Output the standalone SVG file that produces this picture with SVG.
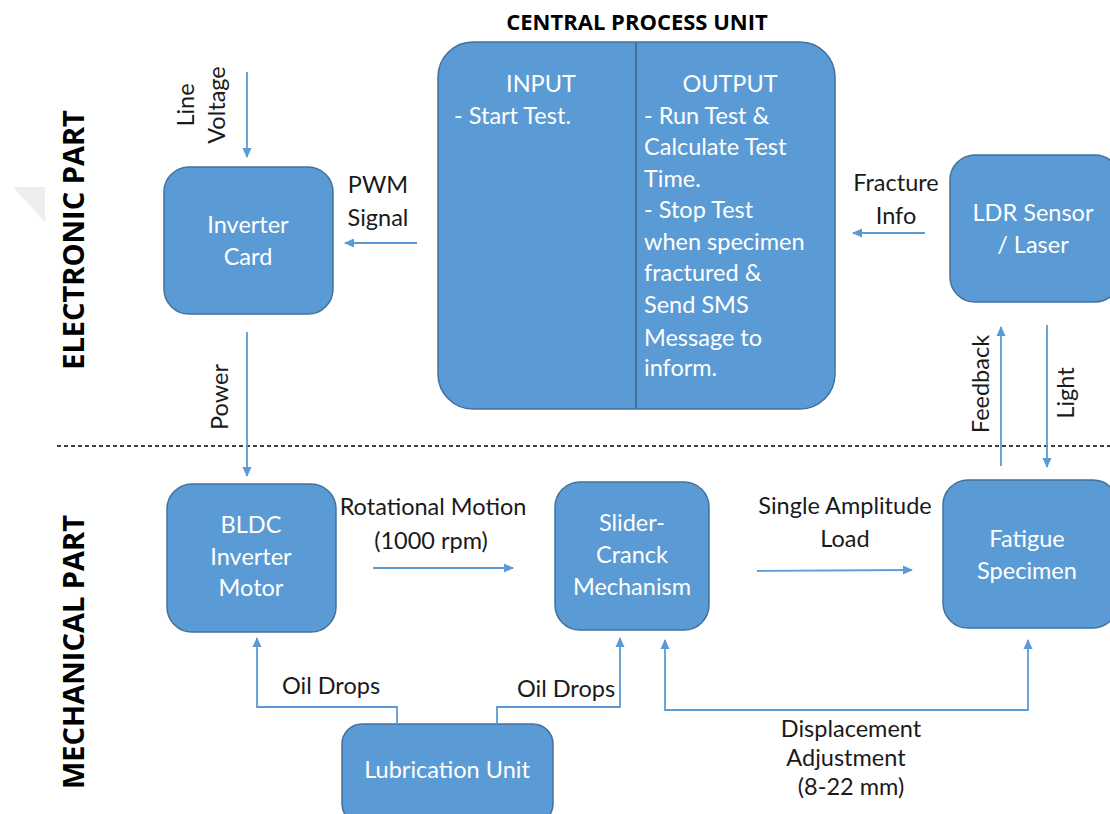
<svg xmlns="http://www.w3.org/2000/svg" width="1110" height="814" viewBox="0 0 1110 814">
<defs>
<marker id="ah" markerWidth="10" markerHeight="10" refX="9" refY="5" orient="auto" markerUnits="userSpaceOnUse">
<path d="M0,0.5 L10,5 L0,9.5 z" fill="#5B9BD5"/>
</marker>
<style>
.box{fill:#5B9BD5;stroke:#41719C;stroke-width:1.5}
.wt{font-family:Lato,"Liberation Sans",sans-serif;font-size:23.5px;fill:#ffffff;text-anchor:middle}
.wl{font-family:Lato,"Liberation Sans",sans-serif;font-size:23.5px;fill:#ffffff}
.bt{font-family:Lato,"Liberation Sans",sans-serif;font-size:23.5px;fill:#1a1a1a;text-anchor:middle}
.hd{font-family:"Open Sans","Liberation Sans",sans-serif;font-weight:bold;fill:#000000;text-anchor:middle}
.cn{fill:none;stroke:#5B9BD5;stroke-width:1.8}
</style>
</defs>
<rect width="1110" height="814" fill="#ffffff"/>
<polygon points="13,187 45,187 45,222" fill="#eeeeee"/>
<line x1="57" y1="446" x2="1110" y2="446" stroke="#000" stroke-width="1.3" stroke-dasharray="4,3"/>
<text class="hd" x="637" y="30" font-size="22">CENTRAL PROCESS UNIT</text>
<text class="hd" font-size="29" transform="translate(84,240) rotate(-90)" x="0" y="0">ELECTRONIC PART</text>
<text class="hd" font-size="29" transform="translate(84,652) rotate(-90)" x="0" y="0">MECHANICAL PART</text>

<g id="cpu">
<rect class="box" x="438" y="42" width="397" height="367" rx="35"/>
<line x1="636" y1="43" x2="636" y2="408" stroke="#41719C" stroke-width="2"/>
<text class="wt" x="541" y="92">INPUT</text>
<text class="wl" x="454" y="124">- Start Test.</text>
<text class="wt" x="730" y="92">OUTPUT</text>
<text class="wl" x="644" y="124">- Run Test &amp;</text>
<text class="wl" x="644" y="155">Calculate Test</text>
<text class="wl" x="644" y="187">Time.</text>
<text class="wl" x="644" y="218">- Stop Test</text>
<text class="wl" x="644" y="250">when specimen</text>
<text class="wl" x="644" y="281">fractured &amp;</text>
<text class="wl" x="644" y="313">Send SMS</text>
<text class="wl" x="644" y="346">Message to</text>
<text class="wl" x="644" y="376">inform.</text>
</g>

<g id="inverter-card">
<rect class="box" x="164" y="167" width="169" height="147" rx="25"/>
<text class="wt" x="248" y="233">Inverter</text>
<text class="wt" x="248" y="265">Card</text>
</g>

<g id="ldr">
<rect class="box" x="950" y="155" width="170" height="147" rx="25"/>
<text class="wt" x="1033" y="221">LDR Sensor</text>
<text class="wt" x="1033" y="253">/ Laser</text>
</g>

<g id="bldc">
<rect class="box" x="167" y="484" width="169" height="148" rx="25"/>
<text class="wt" x="251" y="533">BLDC</text>
<text class="wt" x="251" y="565">Inverter</text>
<text class="wt" x="251" y="596">Motor</text>
</g>

<g id="slider">
<rect class="box" x="555" y="482" width="154" height="148" rx="25"/>
<text class="wt" x="632" y="531">Slider-</text>
<text class="wt" x="632" y="563">Cranck</text>
<text class="wt" x="632" y="595">Mechanism</text>
</g>

<g id="fatigue">
<rect class="box" x="943" y="480" width="175" height="148" rx="25"/>
<text class="wt" x="1027" y="547">Fatigue</text>
<text class="wt" x="1027" y="579">Specimen</text>
</g>

<g id="lubrication">
<rect class="box" x="342" y="724" width="211" height="100" rx="20"/>
<text class="wt" x="447" y="778">Lubrication Unit</text>
</g>

<g id="connectors">
<line class="cn" x1="247" y1="72" x2="247" y2="157" marker-end="url(#ah)"/>
<line class="cn" x1="247" y1="332" x2="247" y2="476" marker-end="url(#ah)"/>
<line class="cn" x1="417" y1="243" x2="345" y2="243" marker-end="url(#ah)"/>
<line class="cn" x1="925" y1="233" x2="853" y2="233" marker-end="url(#ah)"/>
<line class="cn" x1="1001" y1="466" x2="1001" y2="327" marker-end="url(#ah)"/>
<line class="cn" x1="1047" y1="325" x2="1047" y2="467" marker-end="url(#ah)"/>
<line class="cn" x1="373" y1="568" x2="513" y2="568" marker-end="url(#ah)"/>
<line class="cn" x1="757" y1="571" x2="912" y2="570" marker-end="url(#ah)"/>
<polyline class="cn" points="397,724 397,707 257,707 257,638" marker-end="url(#ah)"/>
<polyline class="cn" points="497,724 497,707 620,707 620,638" marker-end="url(#ah)"/>
<polyline class="cn" points="1028,710 665,710 665,640" marker-end="url(#ah)"/>
<line class="cn" x1="1028" y1="711" x2="1028" y2="640" marker-end="url(#ah)"/>
</g>

<g id="labels">
<text class="bt" transform="translate(194,105) rotate(-90)">Line</text>
<text class="bt" transform="translate(225,105) rotate(-90)">Voltage</text>
<text class="bt" transform="translate(228,397) rotate(-90)">Power</text>
<text class="bt" x="378" y="193">PWM</text>
<text class="bt" x="378" y="226">Signal</text>
<text class="bt" x="896" y="191">Fracture</text>
<text class="bt" x="896" y="224">Info</text>
<text class="bt" transform="translate(989,384) rotate(-90)">Feedback</text>
<text class="bt" transform="translate(1074,393) rotate(-90)">Light</text>
<text class="bt" x="433" y="515">Rotational Motion</text>
<text class="bt" x="431" y="549">(1000 rpm)</text>
<text class="bt" x="845" y="514">Single Amplitude</text>
<text class="bt" x="845" y="547">Load</text>
<text class="bt" x="331" y="694">Oil Drops</text>
<text class="bt" x="566" y="697">Oil Drops</text>
<text class="bt" x="851" y="737" font-size="20">Displacement</text>
<text class="bt" x="846" y="766" font-size="20">Adjustment</text>
<text class="bt" x="851" y="795" font-size="20">(8-22 mm)</text>
</g>
</svg>
